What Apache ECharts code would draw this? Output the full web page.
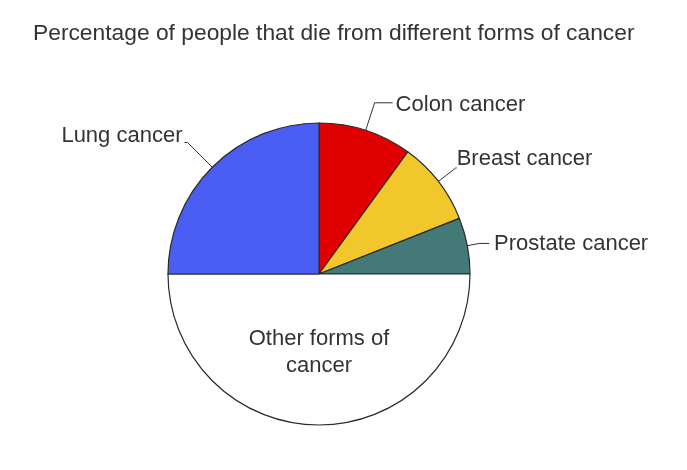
<!DOCTYPE html>
<html>
<head>
<meta charset="utf-8">
<script src="https://cdn.jsdelivr.net/npm/echarts@6/dist/echarts.min.js"></script>
<style>html,body{margin:0;padding:0;background:#fff}#c{width:687px;height:470px}</style>
</head>
<body>
<div id="c"></div>
<script>
var titleText = 'Percentage of people that die from different forms of cancer';
var categories = ['Colon cancer', 'Breast cancer', 'Prostate cancer', 'Other forms of\ncancer', 'Lung cancer'];
var values = [10, 9, 6, 50, 25];
var colors = ['#e00000', '#f2c72c', '#437a78', '#ffffff', '#4a5ef4'];
var lineLen = [29, 22, 12, 0, 35];
var lineLen2 = [18, 1, 10, 0, 3];
var labelShiftX = [-2, -5, 0, 0, 3];
var labelShiftY = [2, -9, 0, 0, -7];

var chart = echarts.init(document.getElementById('c'), null, {renderer: 'canvas'});
var data = categories.map(function (name, i) {
  var item = {
    name: name,
    value: values[i],
    itemStyle: {color: colors[i]},
    labelLine: {length: lineLen[i], length2: lineLen2[i]}
  };
  if (i === 3) {
    item.label = {position: 'inside', lineHeight: 27};
    item.labelLine = {show: false};
  }
  return item;
});
chart.setOption({
  animation: false,
  backgroundColor: '#fff',
  title: {
    text: titleText,
    left: 28, top: 17,
    textStyle: {fontFamily: 'Liberation Sans, Arial, sans-serif', fontSize: 22.8, fontWeight: 'normal', color: '#333'}
  },
  series: [{
    type: 'pie',
    center: [319, 274],
    radius: 151,
    startAngle: 90,
    clockwise: true,
    avoidLabelOverlap: false,
    data: data,
    itemStyle: {borderColor: '#2a2a2a', borderWidth: 1.2},
    label: {
      show: true,
      position: 'outside',
      color: '#333',
      fontFamily: 'Liberation Sans, Arial, sans-serif',
      fontSize: 22,
      formatter: '{b}'
    },
    labelLayout: function (p) {
      return {dx: labelShiftX[p.dataIndex], dy: labelShiftY[p.dataIndex]};
    },
    labelLine: {show: true, lineStyle: {color: '#333', width: 1}},
    emphasis: {disabled: true}
  }]
});
</script>
</body>
</html>
